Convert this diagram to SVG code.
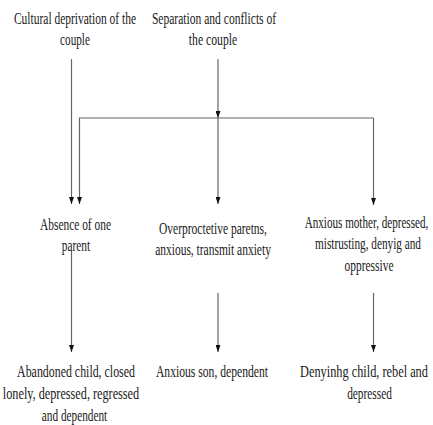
<svg xmlns="http://www.w3.org/2000/svg" width="433" height="425" viewBox="0 0 433 425">
<defs>
<style>
text{font-family:"Liberation Serif","Times New Roman",serif;font-size:17px;fill:#1a1a1a;text-anchor:middle}
.c{fill:none;stroke:#666;stroke-width:1.2}
</style>
<marker id="ah" markerUnits="userSpaceOnUse" markerWidth="7" markerHeight="5" refX="7" refY="2.5" orient="auto-start-reverse" viewBox="0 0 7 5">
<path d="M0,0 L7,2.5 L0,5 Z" fill="#111"/>
</marker>
</defs>
<rect width="433" height="425" fill="#fff"/>
<g id="connectors">
<path class="c" d="M71.5,59 V204" marker-end="url(#ah)"/>
<path class="c" d="M218,59 V118" marker-end="url(#ah)"/>
<path class="c" d="M79.5,204 V118 H373.5" marker-start="url(#ah)"/>
<path class="c" d="M218,118 V204" marker-end="url(#ah)"/>
<path class="c" d="M373.5,118 V205" marker-end="url(#ah)"/>
<path class="c" d="M71.5,250 V352" marker-end="url(#ah)"/>
<path class="c" d="M218,293 V352" marker-end="url(#ah)"/>
<path class="c" d="M373.5,293 V352" marker-end="url(#ah)"/>
</g>
<g id="cultural">
<text transform="translate(75,24) scale(0.71,1)" textLength="172" lengthAdjust="spacingAndGlyphs">Cultural deprivation of the</text>
<text transform="translate(75,45) scale(0.71,1)" textLength="42" lengthAdjust="spacingAndGlyphs">couple</text>
</g>
<g id="separation">
<text transform="translate(214,24) scale(0.71,1)" textLength="175" lengthAdjust="spacingAndGlyphs">Separation and conflicts of</text>
<text transform="translate(213,45) scale(0.71,1)" textLength="68" lengthAdjust="spacingAndGlyphs">the couple</text>
</g>
<g id="absence">
<text transform="translate(75.5,230) scale(0.71,1)" textLength="100" lengthAdjust="spacingAndGlyphs">Absence of one</text>
<text transform="translate(76,251) scale(0.71,1)" textLength="40" lengthAdjust="spacingAndGlyphs">parent</text>
</g>
<g id="overprotective">
<text transform="translate(213,234) scale(0.71,1)" textLength="152" lengthAdjust="spacingAndGlyphs">Overproctetive paretns,</text>
<text transform="translate(213,255) scale(0.71,1)" textLength="163" lengthAdjust="spacingAndGlyphs">anxious, transmit anxiety</text>
</g>
<g id="anxious-mother">
<text transform="translate(366.5,228) scale(0.65,1)" textLength="190" lengthAdjust="spacingAndGlyphs">Anxious mother, depressed,</text>
<text transform="translate(368,249) scale(0.71,1)" textLength="149" lengthAdjust="spacingAndGlyphs">mistrusting, denyig and</text>
<text transform="translate(369,271) scale(0.71,1)" textLength="69" lengthAdjust="spacingAndGlyphs">oppressive</text>
</g>
<g id="abandoned">
<text transform="translate(76,377) scale(0.71,1)" textLength="166" lengthAdjust="spacingAndGlyphs">Abandoned child, closed</text>
<text transform="translate(71,399) scale(0.71,1)" textLength="192" lengthAdjust="spacingAndGlyphs">lonely, depressed, regressed</text>
<text transform="translate(74.5,421) scale(0.71,1)" textLength="92" lengthAdjust="spacingAndGlyphs">and dependent</text>
</g>
<g id="anxious-son">
<text transform="translate(212,377) scale(0.71,1)" textLength="158" lengthAdjust="spacingAndGlyphs">Anxious son, dependent</text>
</g>
<g id="denying-child">
<text transform="translate(364,377) scale(0.71,1)" textLength="180" lengthAdjust="spacingAndGlyphs">Denyinhg child, rebel and</text>
<text transform="translate(369.5,399) scale(0.71,1)" textLength="63" lengthAdjust="spacingAndGlyphs">depressed</text>
</g>
</svg>
